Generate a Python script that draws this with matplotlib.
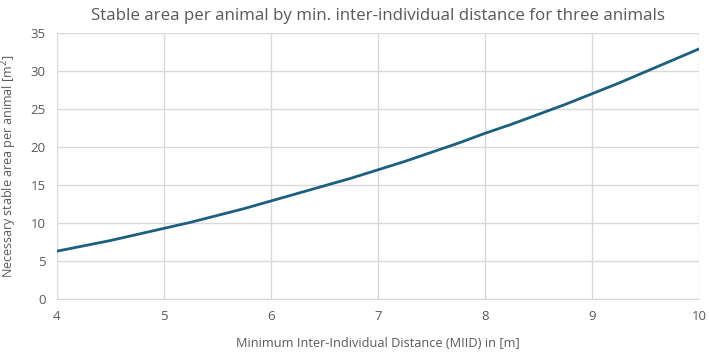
import matplotlib
matplotlib.use("Agg")
import matplotlib.pyplot as plt

# Minimum inter-individual distance [m] and stable area per animal [m^2]
miid = [4.0, 4.25, 4.5, 4.75, 5.0, 5.25, 5.5, 5.75, 6.0, 6.25, 6.5, 6.75, 7.0,
        7.25, 7.5, 7.75, 8.0, 8.25, 8.5, 8.75, 9.0, 9.25, 9.5, 9.75, 10.0]
area = [6.3, 7.0, 7.7, 8.5, 9.3, 10.1, 11.0, 11.9, 12.9, 13.9, 14.9, 15.9, 17.0,
        18.1, 19.3, 20.5, 21.8, 23.0, 24.3, 25.6, 27.0, 28.4, 29.9, 31.4, 32.9]

plt.rcParams['font.family'] = ['Open Sans', 'DejaVu Sans']
text_col = '#595959'
grid_col = '#d9d9d9'

fig = plt.figure(figsize=(7.09, 3.54), dpi=100)
ax = fig.add_axes([0.080, 0.155, 0.906, 0.752])

ax.plot(miid, area, color='#1c5f7e', linewidth=2.0, solid_capstyle='round')

ax.set_xlim(4, 10)
ax.set_ylim(0, 35)
ax.set_xticks(range(4, 11))
ax.set_yticks(range(0, 36, 5))
ax.grid(True, color=grid_col, linewidth=1.0)
ax.set_axisbelow(True)
for side in ['top', 'right', 'left']:
    ax.spines[side].set_visible(False)
ax.spines['bottom'].set_color(grid_col)
ax.tick_params(length=0, colors=text_col, labelsize=9.5, pad=8)

ax.set_title('Stable area per animal by min. inter-individual distance for three animals',
             color=text_col, fontsize=12.2, pad=9)
ax.set_xlabel('Minimum Inter-Individual Distance (MIID) in [m]', color=text_col,
              fontsize=9.2, labelpad=10)
ax.set_ylabel('Necessary stable area per animal [m$^2$]', color=text_col, fontsize=9,
              labelpad=8)

fig.savefig('out.png', dpi=100)
